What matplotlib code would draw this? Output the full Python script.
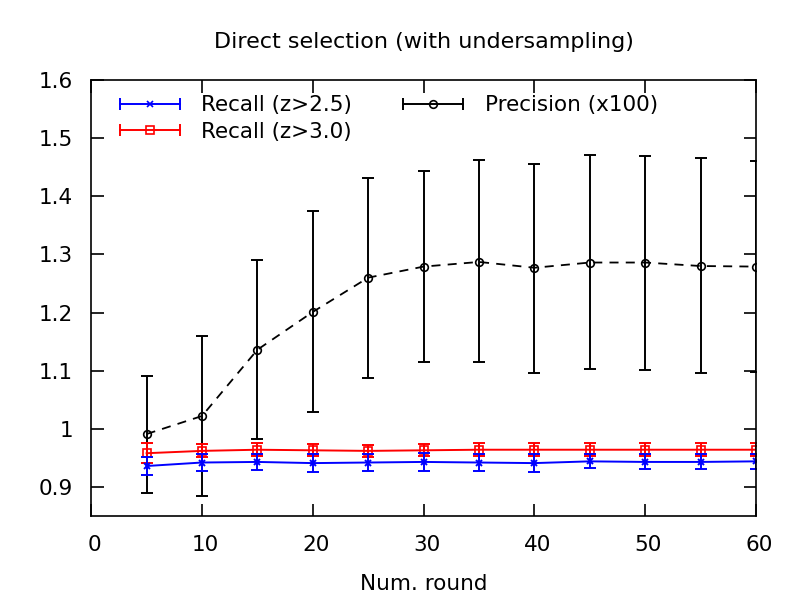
import matplotlib
matplotlib.use("Agg")
import matplotlib.pyplot as plt
from matplotlib.lines import Line2D
from matplotlib.legend_handler import HandlerBase
from matplotlib.ticker import FuncFormatter
from matplotlib.transforms import ScaledTranslation

# rounds
rounds = [5, 10, 15, 20, 25, 30, 35, 40, 45, 50, 55, 60]

# Recall (z>2.5)
recall25 = [0.936, 0.942, 0.943, 0.941, 0.942, 0.943, 0.942, 0.941, 0.944, 0.943, 0.943, 0.944]
recall25_err = [0.016, 0.014, 0.014, 0.016, 0.015, 0.015, 0.015, 0.015, 0.012, 0.013, 0.013, 0.013]

# Recall (z>3.0)
recall30 = [0.958, 0.962, 0.964, 0.963, 0.962, 0.963, 0.964, 0.964, 0.964, 0.964, 0.964, 0.964]
recall30_err = [0.017, 0.011, 0.011, 0.010, 0.010, 0.010, 0.011, 0.011, 0.011, 0.011, 0.011, 0.011]

# Precision (x100)
precision = [0.991, 1.022, 1.136, 1.201, 1.260, 1.279, 1.287, 1.277, 1.286, 1.286, 1.280, 1.279]
precision_lo = [0.890, 0.884, 0.983, 1.029, 1.087, 1.115, 1.115, 1.096, 1.103, 1.101, 1.096, 1.098]
precision_hi = [1.090, 1.160, 1.290, 1.375, 1.432, 1.443, 1.462, 1.456, 1.471, 1.469, 1.466, 1.460]


class GnuplotErrHandler(HandlerBase):
    # legend sample drawn like gnuplot: horizontal bar with end caps and marker in the middle
    def create_artists(self, legend, orig_handle, xdescent, ydescent, width, height, fontsize, trans):
        c = orig_handle.get_color()
        y = height / 2 - ydescent
        x0, x1 = -xdescent, width - xdescent
        line = Line2D([x0, x1], [y, y], color=c, lw=1.4, transform=trans)
        caps = Line2D([x0, x1], [y, y], color=c, ls="none", marker="|", markersize=9, mew=1.4, transform=trans)
        mk = Line2D([(x0 + x1) / 2], [y], color=c, ls="none", marker=orig_handle.get_marker(),
                    markersize=orig_handle.get_markersize(), mfc="none", mew=1.2, transform=trans)
        return [line, caps, mk]


plt.rcParams["font.family"] = ["DejaVu Sans"]
fig = plt.figure(figsize=(8, 6), dpi=100)
ax = fig.add_axes([0.114, 0.14, 0.831, 0.7267])

err_lo = [p - l for p, l in zip(precision, precision_lo)]
err_hi = [h - p for p, h in zip(precision, precision_hi)]
ax.errorbar(rounds, precision, yerr=[err_lo, err_hi], color="black", ls="none",
            elinewidth=1.4, capsize=4.5, capthick=1.4)
ax.plot(rounds, precision, color="black", ls=(0, (5, 4)), lw=1.3,
        marker="o", markersize=5.5, mfc="none", mew=1.2)

ax.errorbar(rounds, recall30, yerr=recall30_err, color="red", ls="none",
            elinewidth=1.4, capsize=4.5, capthick=1.4)
ax.plot(rounds, recall30, color="red", lw=1.4, marker="s", markersize=5.5, mfc="none", mew=1.2)

ax.errorbar(rounds, recall25, yerr=recall25_err, color="blue", ls="none",
            elinewidth=1.4, capsize=4.5, capthick=1.4)
ax.plot(rounds, recall25, color="blue", lw=1.4, marker="x", markersize=5, mew=1.4)

ax.set_xlim(0, 60)
ax.set_ylim(0.85, 1.6)
ax.set_xticks(range(0, 61, 10))
ax.set_yticks([0.9, 1.0, 1.1, 1.2, 1.3, 1.4, 1.5, 1.6])
ax.yaxis.set_major_formatter(FuncFormatter(lambda v, p: "%g" % round(v, 2)))
ax.tick_params(direction="in", length=9, width=1.2, top=True, right=True, labelsize=15.5)
ax.tick_params(axis="x", pad=14)
ax.tick_params(axis="y", pad=13)
for lab in ax.get_xticklabels():
    lab.set_transform(lab.get_transform() + ScaledTranslation(3 / 100, 0, fig.dpi_scale_trans))
for s in ax.spines.values():
    s.set_linewidth(1.2)

ax.set_xlabel("Num. round", fontsize=15.5, labelpad=13)
ax.set_title("Direct selection (with undersampling)", fontsize=16, pad=23)

h25 = Line2D([], [], color="blue", marker="x", markersize=5)
h30 = Line2D([], [], color="red", marker="s", markersize=5.5)
hpr = Line2D([], [], color="black", marker="o", markersize=5.5)
ax.legend([h25, h30, hpr], ["Recall (z>2.5)", "Recall (z>3.0)", "Precision (x100)"],
          ncol=2, loc="upper left", frameon=False, fontsize=15.5, handlelength=2.8,
          handletextpad=1.0, columnspacing=2.35, labelspacing=0.3,
          borderaxespad=0.3, bbox_to_anchor=(0.02, 1.0),
          handler_map={Line2D: GnuplotErrHandler()})

fig.savefig("out.png", dpi=100)
